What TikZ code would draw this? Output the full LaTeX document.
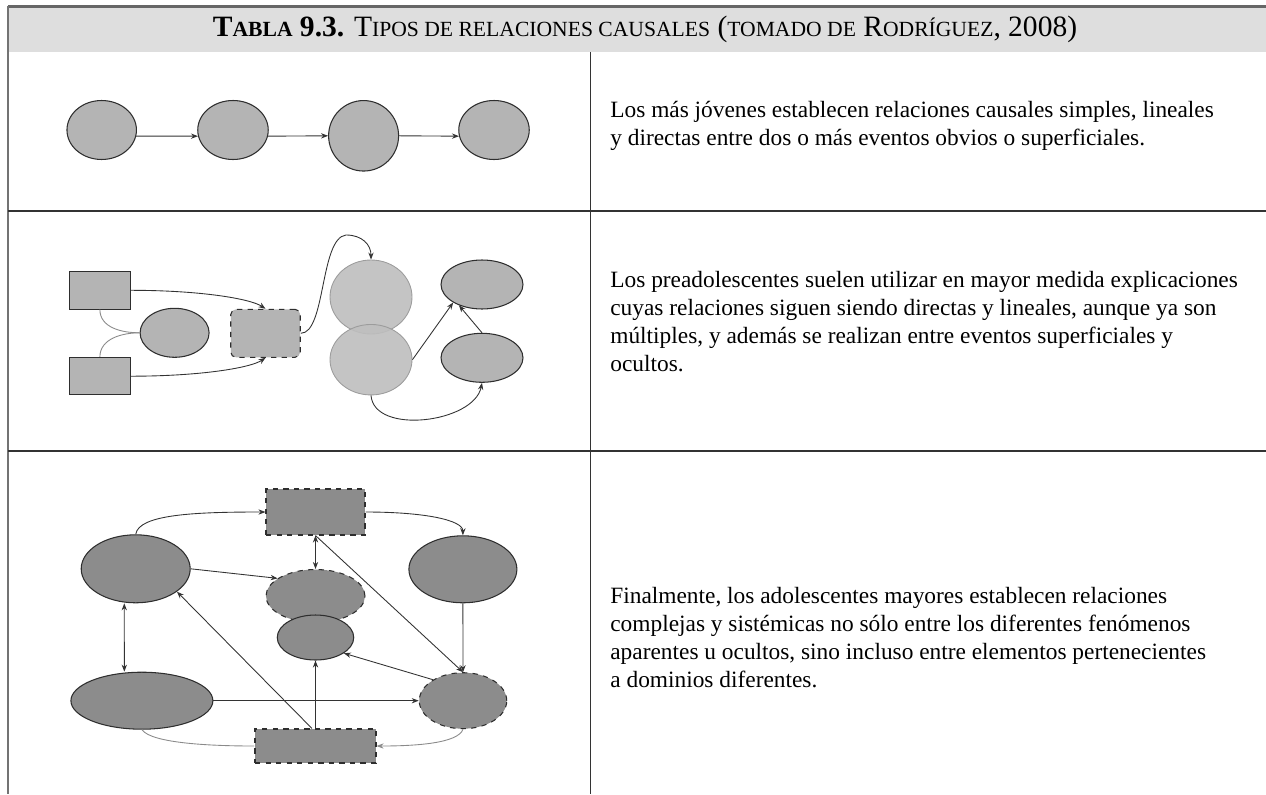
\documentclass[tikz,border=0pt]{standalone}
\usepackage{fontspec}
\setmainfont{Liberation Serif}
\usetikzlibrary{shapes.geometric,arrows.meta}
\definecolor{headgray}{HTML}{DEDEDE}
\definecolor{rulegray}{HTML}{333333}
\definecolor{lightfill}{HTML}{B4B4B4}
\definecolor{palefill}{HTML}{BEBEBE}
\definecolor{paleedge}{HTML}{9C9C9C}
\definecolor{darkfill}{HTML}{8C8C8C}
\definecolor{edgegray}{HTML}{2E2E2E}
\definecolor{linkgray}{HTML}{8A8A8A}
\newcommand\smc[1]{{\fontsize{12.3}{12.3}\selectfont #1}}

\begin{document}
\begin{tikzpicture}[x=0.02cm,y=-0.02cm,
  oval/.style={ellipse,draw=edgegray,line width=0.6pt,fill=lightfill,inner sep=0pt},
  box/.style={rectangle,draw=edgegray,line width=0.6pt,fill=lightfill,inner sep=0pt},
  pale/.style={ellipse,draw=paleedge,line width=0.5pt,fill=palefill,fill opacity=0.9,inner sep=0pt},
  dkoval/.style={oval,fill=darkfill},
  dkbox/.style={box,fill=darkfill,dashed},
  arr/.style={draw=rulegray,line width=0.5pt,-{Stealth[length=4pt,width=3pt]}},
  darr/.style={draw=rulegray,line width=0.5pt,{Stealth[length=4pt,width=3pt]}-{Stealth[length=4pt,width=3pt]}},
  glink/.style={draw=linkgray,line width=0.5pt},
  para/.style={anchor=base west,align=left,inner sep=0pt,font=\fontsize{13.3}{15.93}\selectfont}]
\useasboundingbox (0,0) rectangle (1266,794);

% table frame
\fill[headgray] (8,7) rectangle (1266,52);
\draw[line width=1.2pt,draw=black!60] (8,6.5) -- (1266,6.5);
\draw[line width=0.8pt,draw=black!55] (8,6) -- (8,794);
\draw[line width=0.6pt,draw=rulegray] (8,211) -- (1266,211);
\draw[line width=0.6pt,draw=rulegray] (8,451) -- (1266,451);
\draw[line width=0.5pt,draw=rulegray] (590,52) -- (590,794);
\node[anchor=base,inner sep=0pt,font=\fontsize{16.8}{17}\selectfont] (title) at (645,37)
  {\textbf{T\smc{ABLA} 9.3.} T\smc{IPOS DE RELACIONES CAUSALES} (\smc{TOMADO DE} R\smc{ODRÍGUEZ}, 2008)};

% row 1: simple chain
\node[oval,minimum width=1.39cm,minimum height=1.18cm] (j1) at (101.7,130) {};
\node[oval,minimum width=1.41cm,minimum height=1.18cm] (j2) at (233,130) {};
\node[oval,minimum width=1.4cm,minimum height=1.41cm] (j3) at (363.6,135.8) {};
\node[oval,minimum width=1.41cm,minimum height=1.18cm] (j4) at (494,130) {};
\draw[arr] (j1.-10) -- (j2.190);
\draw[arr] (j2.-10) -- (j3.west);
\draw[arr] (j3.east) -- (j4.190);
\node[para] (txt1) at (610,145)
  {Los más jóvenes establecen relaciones causales simples, lineales\\
   y directas entre dos o más eventos obvios o superficiales.};

% row 2: multiple links
\node[box,minimum width=1.21cm,minimum height=0.75cm] (p1) at (99.9,290.3) {};
\node[box,minimum width=1.21cm,minimum height=0.75cm] (p2) at (99.9,376.2) {};
\node[oval,minimum width=1.38cm,minimum height=0.98cm] (q1) at (174.6,332.8) {};
\node[box,dashed,rounded corners=3pt,minimum width=1.39cm,minimum height=0.96cm] (q2) at (265.5,333.3) {};
\node[pale,minimum width=1.64cm,minimum height=1.48cm] (s1) at (371,297) {};
\node[pale,minimum width=1.64cm,minimum height=1.41cm] (s2) at (371,359.7) {};
\node[oval,minimum width=1.64cm,minimum height=0.98cm] (t1) at (482,284.5) {};
\node[oval,minimum width=1.64cm,minimum height=0.98cm] (t2) at (482,357.8) {};
\draw[glink] (p1.south) .. controls +(0,18) and +(-18,0) .. (q1.west);
\draw[glink] (p2.north) .. controls +(0,-18) and +(-18,0) .. (q1.west);
\draw[arr] (p1.east) .. controls +(70,0) and +(-15,-10) .. (q2.north);
\draw[arr] (p2.east) .. controls +(70,0) and +(-15,10) .. (q2.south);
\draw[arr] (q2.east) .. controls +(25,0) and (320,238) .. (346,235) .. controls +(16,0) and +(0,-15) .. (s1.north);
\draw[arr] (s2.east) -- (t1.212);
\draw[arr] (t2.north) -- (t1.222);
\draw[arr] (s2.south) .. controls +(3,40) and +(-8,40) .. (t2.south);
\node[para] (txt2) at (610,371)
  {Los preadolescentes suelen utilizar en mayor medida explicaciones\\
   cuyas relaciones siguen siendo directas y lineales, aunque ya son\\
   múltiples, y además se realizan entre eventos superficiales y\\
   ocultos.};

% row 3: system of links
\node[dkbox,minimum width=1.98cm,minimum height=0.92cm] (u1) at (315.5,512) {};
\node[dkoval,minimum width=2.18cm,minimum height=1.36cm] (v1) at (135.7,568.8) {};
\node[dkoval,minimum width=2.16cm,minimum height=1.34cm] (v2) at (462.9,569.3) {};
\node[dkoval,dashed,minimum width=1.98cm,minimum height=1.06cm] (w1) at (315.5,596) {};
\node[dkoval,minimum width=1.53cm,minimum height=0.9cm] (w2) at (315.5,637.5) {};
\node[dkoval,minimum width=2.84cm,minimum height=1.14cm] (v3) at (141.9,700.7) {};
\node[dkoval,dashed,minimum width=1.75cm,minimum height=1.12cm] (v4) at (463,700.7) {};
\node[dkbox,minimum width=2.42cm,minimum height=0.68cm] (u2) at (315.5,746) {};
\draw[arr] (v1.north) .. controls +(3,-20) and +(-70,0) .. (u1.west);
\draw[arr] (u1.east) .. controls +(60,0) and +(0,-15) .. (v2.north);
\draw[darr] (u1.south) -- (w1.north);
\draw[arr] (u1.south) -- (v4.north);
\draw[arr] (v1.east) -- (w1.155);
\draw[arr] (v2.south) -- (v4.north);
\draw[darr] ([xshift=-6.5pt]v1.south) -- ([xshift=-10pt]v3.north);
\draw[arr] (v3.east) -- (v4.west);
\draw[arr] (u2.north) -- (w2.south);
\draw[arr] ([xshift=-2pt]u2.north) -- (v1.-29);
\draw[arr] (v4.145) -- (w2.-29);
\draw[glink] (v3.south) .. controls +(10,14) and +(-40,0) .. (u2.west);
\draw[glink,-{Stealth[length=4pt,width=3pt]}] (v4.south) .. controls +(-5,14) and +(40,0) .. (u2.east);
\node[para] (txt3) at (610,687)
  {Finalmente, los adolescentes mayores establecen relaciones\\
   complejas y sistémicas no sólo entre los diferentes fenómenos\\
   aparentes u ocultos, sino incluso entre elementos pertenecientes\\
   a dominios diferentes.};
\end{tikzpicture}
\end{document}
